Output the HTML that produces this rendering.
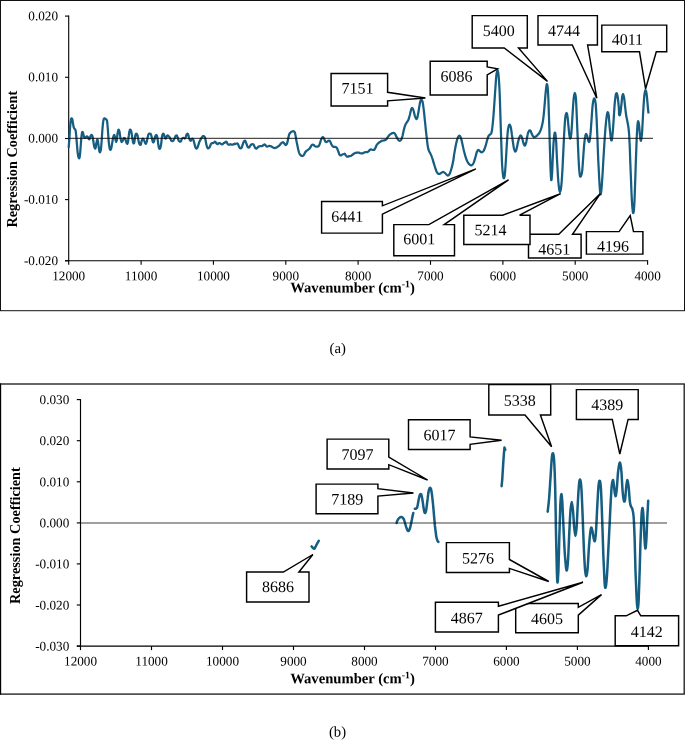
<!DOCTYPE html>
<html><head><meta charset="utf-8"><title>Regression coefficients</title>
<style>
html,body{margin:0;padding:0;background:#fff;}
body{width:685px;height:740px;overflow:hidden;font-family:"Liberation Serif",serif;}
svg{display:block;font-family:"Liberation Serif",serif;will-change:transform;}
text{fill:#000;}
</style></head><body>
<svg width="685" height="740" viewBox="0 0 685 740">
<rect x="0" y="0" width="685" height="740" fill="#fff"/>

<rect x="0.5" y="0.5" width="684.0" height="310.2" fill="none" stroke="#111" stroke-width="1.00"/>
<rect x="0.5" y="384.0" width="683.7" height="310.1" fill="none" stroke="#262626" stroke-width="1.40"/>
<line x1="68.7" y1="15.6" x2="68.7" y2="261.3" stroke="#000" stroke-width="1.10"/><line x1="65.0" y1="260.8" x2="648.1" y2="260.8" stroke="#000" stroke-width="1.10"/><line x1="65.0" y1="16.1" x2="68.7" y2="16.1" stroke="#000" stroke-width="1.10"/><text transform="translate(58.00 20.20) skewY(0.03)" text-anchor="end" font-size="13.2">0.020</text><line x1="65.0" y1="77.3" x2="68.7" y2="77.3" stroke="#000" stroke-width="1.10"/><text transform="translate(58.00 81.38) skewY(0.03)" text-anchor="end" font-size="13.2">0.010</text><line x1="65.0" y1="138.5" x2="68.7" y2="138.5" stroke="#000" stroke-width="1.10"/><text transform="translate(58.00 142.55) skewY(0.03)" text-anchor="end" font-size="13.2">0.000</text><line x1="65.0" y1="199.6" x2="68.7" y2="199.6" stroke="#000" stroke-width="1.10"/><text transform="translate(58.00 203.72) skewY(0.03)" text-anchor="end" font-size="13.2">-0.010</text><line x1="65.0" y1="260.8" x2="68.7" y2="260.8" stroke="#000" stroke-width="1.10"/><text transform="translate(58.00 264.90) skewY(0.03)" text-anchor="end" font-size="13.2">-0.020</text><line x1="68.7" y1="260.8" x2="68.7" y2="264.8" stroke="#000" stroke-width="1.10"/><text transform="translate(68.70 280.30) skewY(0.03)" text-anchor="middle" font-size="13.2">12000</text><line x1="141.1" y1="260.8" x2="141.1" y2="264.8" stroke="#000" stroke-width="1.10"/><text transform="translate(141.06 280.30) skewY(0.03)" text-anchor="middle" font-size="13.2">11000</text><line x1="213.4" y1="260.8" x2="213.4" y2="264.8" stroke="#000" stroke-width="1.10"/><text transform="translate(213.43 280.30) skewY(0.03)" text-anchor="middle" font-size="13.2">10000</text><line x1="285.8" y1="260.8" x2="285.8" y2="264.8" stroke="#000" stroke-width="1.10"/><text transform="translate(285.79 280.30) skewY(0.03)" text-anchor="middle" font-size="13.2">9000</text><line x1="358.1" y1="260.8" x2="358.1" y2="264.8" stroke="#000" stroke-width="1.10"/><text transform="translate(358.15 280.30) skewY(0.03)" text-anchor="middle" font-size="13.2">8000</text><line x1="430.5" y1="260.8" x2="430.5" y2="264.8" stroke="#000" stroke-width="1.10"/><text transform="translate(430.51 280.30) skewY(0.03)" text-anchor="middle" font-size="13.2">7000</text><line x1="502.9" y1="260.8" x2="502.9" y2="264.8" stroke="#000" stroke-width="1.10"/><text transform="translate(502.87 280.30) skewY(0.03)" text-anchor="middle" font-size="13.2">6000</text><line x1="575.2" y1="260.8" x2="575.2" y2="264.8" stroke="#000" stroke-width="1.10"/><text transform="translate(575.24 280.30) skewY(0.03)" text-anchor="middle" font-size="13.2">5000</text><line x1="647.6" y1="260.8" x2="647.6" y2="264.8" stroke="#000" stroke-width="1.10"/><text transform="translate(647.60 280.30) skewY(0.03)" text-anchor="middle" font-size="13.2">4000</text><text transform="translate(352.50 292.40) skewY(0.03)" text-anchor="middle" font-size="14.67" font-weight="bold">Wavenumber (cm<tspan font-size="9.8" dy="-5.2">-1</tspan><tspan dy="5.2">)</tspan></text><text transform="translate(17.2 159.2) rotate(-90)" text-anchor="middle" font-size="14.3" font-weight="bold">Regression Coefficient</text>
<path d="M68.7 147.7 C68.8 146.2 69.1 142.3 69.4 138.9 C69.6 135.5 69.8 130.6 70.1 127.5 C70.3 124.5 70.5 122.0 70.8 120.5 C71.0 119.0 71.3 118.5 71.6 118.3 C71.8 118.2 72.1 118.7 72.4 119.6 C72.6 120.6 72.8 122.7 73.1 124.0 C73.3 125.3 73.5 126.7 73.8 127.5 C74.0 128.3 74.3 128.4 74.6 128.8 C74.9 129.3 75.2 129.1 75.5 130.1 C75.8 131.2 76.0 133.1 76.2 135.4 C76.4 137.7 76.7 141.2 76.9 144.2 C77.2 147.1 77.4 150.7 77.7 152.9 C78.0 155.2 78.3 156.9 78.6 157.7 C78.9 158.5 79.2 158.4 79.5 157.7 C79.7 157.1 79.8 155.9 80.1 153.8 C80.3 151.7 80.5 148.0 80.8 145.0 C81.0 142.1 81.2 138.4 81.5 136.3 C81.7 134.2 81.9 133.0 82.2 132.3 C82.4 131.7 82.7 132.0 82.9 132.3 C83.1 132.7 83.2 133.7 83.4 134.5 C83.6 135.3 83.8 136.6 84.1 137.2 C84.4 137.7 84.7 138.0 85.0 138.0 C85.3 138.0 85.6 137.4 85.8 137.2 C86.1 136.9 86.4 136.3 86.7 136.3 C87.0 136.2 87.3 136.3 87.6 136.7 C87.9 137.1 88.2 138.0 88.5 138.5 C88.8 138.9 89.1 139.6 89.3 139.3 C89.6 139.1 90.0 137.8 90.2 137.2 C90.5 136.5 90.7 135.8 90.9 135.4 C91.2 135.0 91.5 134.8 91.8 135.0 C92.1 135.1 92.3 135.4 92.5 136.3 C92.7 137.2 92.9 138.6 93.2 140.2 C93.5 141.8 93.8 144.5 94.1 145.9 C94.4 147.3 94.7 148.2 95.0 148.5 C95.2 148.8 95.4 148.5 95.7 147.7 C95.9 146.8 96.1 144.6 96.4 143.3 C96.6 142.0 96.9 140.4 97.1 139.8 C97.3 139.2 97.4 139.3 97.6 139.8 C97.8 140.2 97.9 141.1 98.1 142.4 C98.3 143.7 98.6 146.1 98.8 147.7 C99.0 149.2 99.3 150.9 99.5 151.6 C99.7 152.3 100.0 152.4 100.2 152.0 C100.4 151.7 100.7 151.2 100.9 149.4 C101.1 147.7 101.4 144.6 101.6 141.5 C101.8 138.5 102.1 134.1 102.3 131.0 C102.5 128.0 102.8 125.1 103.0 123.1 C103.2 121.2 103.5 120.0 103.7 119.2 C104.0 118.4 104.3 118.4 104.6 118.3 C104.9 118.2 105.2 118.6 105.5 118.8 C105.7 118.9 105.9 119.2 106.2 119.5 C106.4 119.7 106.7 119.3 106.9 120.1 C107.1 120.8 107.2 121.9 107.4 124.0 C107.6 126.1 107.9 129.7 108.1 132.8 C108.3 135.8 108.5 139.8 108.8 142.4 C109.1 145.0 109.4 147.3 109.7 148.5 C110.0 149.8 110.3 150.0 110.5 149.9 C110.8 149.7 111.1 148.9 111.4 147.7 C111.7 146.4 112.0 144.2 112.3 142.4 C112.6 140.7 112.9 138.4 113.2 137.2 C113.5 135.9 113.8 135.1 114.0 135.0 C114.3 134.8 114.5 135.5 114.8 136.3 C115.0 137.1 115.2 138.8 115.5 139.8 C115.7 140.7 115.9 142.0 116.2 142.0 C116.4 142.0 116.6 141.0 116.9 139.8 C117.1 138.5 117.2 136.1 117.4 134.5 C117.6 133.0 117.8 131.4 118.1 130.6 C118.3 129.8 118.5 129.6 118.8 129.7 C119.0 129.9 119.2 130.4 119.5 131.5 C119.7 132.6 119.9 134.7 120.2 136.3 C120.4 137.8 120.8 139.7 121.1 140.7 C121.3 141.6 121.6 142.0 121.9 142.0 C122.3 141.9 122.7 140.9 123.0 140.2 C123.3 139.6 123.6 138.4 123.9 138.0 C124.1 137.7 124.4 137.7 124.7 138.0 C125.0 138.3 125.3 139.0 125.6 139.8 C125.9 140.6 126.2 142.2 126.5 142.8 C126.8 143.5 127.1 143.9 127.4 143.7 C127.6 143.5 127.8 142.9 128.1 141.5 C128.3 140.1 128.5 137.2 128.8 135.4 C129.0 133.6 129.3 131.5 129.6 130.6 C129.9 129.6 130.2 129.5 130.5 129.7 C130.8 129.9 131.1 130.5 131.4 131.9 C131.7 133.3 132.0 136.3 132.3 138.0 C132.6 139.8 132.8 141.5 133.1 142.4 C133.4 143.3 133.8 143.7 134.0 143.3 C134.3 142.8 134.5 141.2 134.7 139.8 C134.9 138.4 135.2 136.0 135.4 135.0 C135.7 133.9 136.0 133.7 136.3 133.6 C136.6 133.6 136.9 133.8 137.2 134.5 C137.5 135.3 137.8 136.7 138.0 138.0 C138.3 139.3 138.6 141.3 138.9 142.4 C139.2 143.5 139.5 144.2 139.8 144.6 C140.1 145.0 140.4 145.1 140.7 144.6 C141.0 144.1 141.3 142.5 141.5 141.5 C141.8 140.6 142.1 139.3 142.4 138.9 C142.7 138.5 143.0 138.6 143.3 138.9 C143.6 139.2 143.9 140.0 144.2 140.7 C144.5 141.3 144.8 142.3 145.1 142.8 C145.3 143.4 145.6 143.9 145.9 143.7 C146.2 143.5 146.5 142.6 146.8 141.5 C147.1 140.4 147.4 138.4 147.7 137.2 C148.0 135.9 148.2 134.7 148.6 134.1 C148.9 133.5 149.4 133.6 149.8 133.6 C150.2 133.6 150.5 133.5 150.8 134.1 C151.2 134.7 151.4 136.0 151.7 137.2 C152.0 138.3 152.3 140.2 152.6 141.1 C152.9 142.0 153.2 142.6 153.5 142.4 C153.8 142.3 154.0 141.2 154.3 140.2 C154.6 139.2 154.9 137.2 155.2 136.3 C155.5 135.4 155.8 135.0 156.1 135.0 C156.4 134.9 156.7 135.0 157.0 135.8 C157.2 136.6 157.4 138.2 157.7 139.8 C157.9 141.3 158.1 143.6 158.4 145.0 C158.6 146.5 158.9 148.0 159.2 148.5 C159.5 149.1 159.8 149.1 160.1 148.5 C160.4 148.0 160.7 146.6 161.0 145.0 C161.3 143.4 161.5 140.6 161.7 138.9 C161.9 137.2 162.1 135.8 162.4 135.0 C162.7 134.1 163.0 133.6 163.3 133.6 C163.6 133.6 163.9 134.2 164.1 135.0 C164.4 135.7 164.7 137.4 165.0 138.0 C165.3 138.6 165.6 138.8 165.9 138.5 C166.2 138.2 166.5 136.8 166.8 136.3 C167.1 135.8 167.3 135.4 167.6 135.4 C168.0 135.4 168.4 136.0 168.7 136.3 C169.0 136.6 169.3 136.7 169.6 137.2 C169.9 137.6 170.2 138.3 170.5 138.9 C170.7 139.5 171.0 140.3 171.3 140.7 C171.7 141.0 172.2 141.2 172.6 141.1 C172.9 141.0 173.3 140.7 173.6 140.2 C174.0 139.7 174.3 138.8 174.7 138.0 C175.0 137.3 175.4 136.3 175.7 135.8 C176.1 135.4 176.4 135.2 176.8 135.4 C177.1 135.6 177.3 136.3 177.6 137.2 C177.9 138.0 178.2 139.5 178.5 140.2 C178.8 140.9 179.2 141.4 179.6 141.5 C180.0 141.7 180.6 141.5 181.0 141.1 C181.3 140.7 181.5 139.4 181.8 138.9 C182.2 138.4 182.6 138.2 182.9 138.0 C183.2 137.9 183.4 137.8 183.8 137.9 C184.1 137.9 184.5 138.6 184.8 138.5 C185.1 138.3 185.4 137.8 185.7 137.2 C186.0 136.5 186.3 135.1 186.6 134.5 C186.9 133.9 187.1 133.6 187.4 133.6 C187.7 133.7 188.1 134.2 188.3 135.0 C188.6 135.7 188.8 137.2 189.0 138.0 C189.3 138.9 189.6 139.8 189.9 140.2 C190.2 140.7 190.5 140.8 190.8 140.7 C191.1 140.5 191.3 139.7 191.6 139.3 C191.9 139.0 192.2 138.7 192.5 138.7 C192.8 138.8 193.1 139.2 193.4 139.8 C193.7 140.4 193.8 141.4 194.1 142.4 C194.4 143.4 194.7 145.0 195.0 145.9 C195.3 146.9 195.6 147.7 195.8 148.1 C196.1 148.5 196.4 148.7 196.7 148.5 C197.0 148.4 197.3 147.9 197.6 147.2 C197.9 146.6 198.2 145.5 198.5 144.6 C198.8 143.7 199.0 142.8 199.3 142.0 C199.7 141.2 200.1 140.4 200.4 139.8 C200.8 139.1 201.1 138.5 201.5 138.0 C201.8 137.5 202.0 137.0 202.3 136.7 C202.6 136.4 202.9 136.2 203.2 136.1 C203.5 136.0 203.8 136.0 204.1 136.3 C204.4 136.5 204.7 136.9 205.0 137.6 C205.2 138.3 205.4 139.5 205.7 140.7 C205.9 141.8 206.1 143.5 206.4 144.6 C206.6 145.7 206.9 146.6 207.2 147.2 C207.5 147.9 207.8 148.3 208.1 148.4 C208.4 148.5 208.8 148.2 209.2 147.8 C209.5 147.5 209.7 147.0 210.0 146.3 C210.3 145.7 210.6 144.7 210.9 144.2 C211.2 143.6 211.6 143.3 212.0 143.1 C212.3 142.9 212.7 143.2 213.0 143.1 C213.4 143.0 213.7 142.6 214.1 142.4 C214.4 142.2 214.6 141.7 214.9 141.7 C215.2 141.7 215.5 142.1 215.8 142.4 C216.1 142.7 216.4 143.4 216.7 143.7 C217.0 144.0 217.2 144.2 217.6 144.2 C217.9 144.1 218.3 143.5 218.6 143.3 C219.0 143.1 219.3 143.0 219.7 143.1 C220.0 143.2 220.4 143.5 220.7 143.7 C221.1 143.9 221.4 144.3 221.8 144.3 C222.1 144.4 222.5 144.2 222.8 144.0 C223.2 143.8 223.5 143.3 223.9 143.1 C224.2 142.9 224.6 142.8 224.9 142.6 C225.2 142.3 225.5 141.8 225.8 141.7 C226.1 141.6 226.4 141.7 226.7 142.0 C226.9 142.3 227.1 143.0 227.4 143.5 C227.6 143.9 227.9 144.4 228.3 144.6 C228.6 144.8 229.0 144.7 229.3 144.6 C229.7 144.5 230.0 144.2 230.4 144.2 C230.7 144.2 231.1 144.5 231.4 144.6 C231.8 144.7 232.1 144.7 232.5 144.7 C232.8 144.6 233.2 144.5 233.5 144.3 C233.9 144.2 234.3 143.8 234.6 143.7 C234.9 143.7 234.9 144.0 235.3 144.0 C235.6 143.9 236.2 143.5 236.6 143.5 C237.0 143.4 237.4 143.4 237.7 143.7 C238.0 144.1 238.3 144.8 238.6 145.5 C238.9 146.1 239.1 147.0 239.5 147.5 C239.8 148.0 240.2 148.3 240.5 148.4 C240.9 148.4 241.2 148.1 241.6 147.7 C241.9 147.2 242.1 146.3 242.4 145.5 C242.7 144.7 243.0 143.6 243.3 142.8 C243.6 142.1 243.9 141.4 244.2 141.1 C244.5 140.8 244.8 140.6 245.1 140.8 C245.4 141.0 245.6 141.6 245.9 142.2 C246.2 142.9 246.5 143.8 246.8 144.6 C247.1 145.4 247.4 146.3 247.7 146.8 C248.0 147.3 248.4 147.5 248.7 147.5 C249.1 147.5 249.4 147.0 249.8 146.6 C250.1 146.2 250.5 145.4 250.8 145.0 C251.2 144.7 251.5 144.5 251.9 144.3 C252.2 144.2 252.6 144.0 252.9 144.2 C253.3 144.3 253.5 144.6 253.8 145.0 C254.1 145.5 254.4 146.4 254.7 147.0 C255.0 147.5 255.3 148.1 255.6 148.4 C255.9 148.6 256.3 148.7 256.6 148.5 C257.0 148.4 257.3 147.8 257.7 147.5 C258.0 147.2 258.3 146.8 258.7 146.6 C259.1 146.4 259.5 146.2 260.0 146.1 C260.4 146.0 260.8 146.1 261.2 146.1 C261.6 146.1 262.0 146.1 262.4 145.9 C262.8 145.7 263.1 145.3 263.5 145.0 C263.8 144.8 264.2 144.3 264.5 144.3 C264.8 144.3 265.1 144.7 265.4 145.0 C265.7 145.4 265.9 146.1 266.3 146.3 C266.6 146.6 267.0 146.7 267.3 146.6 C267.7 146.6 268.0 146.2 268.4 146.1 C268.7 146.0 269.1 145.9 269.4 145.9 C269.8 145.9 270.1 146.0 270.5 146.1 C270.8 146.2 271.2 146.4 271.5 146.6 C271.9 146.8 272.2 147.1 272.6 147.3 C272.9 147.5 273.3 147.7 273.6 147.8 C274.0 148.0 274.3 148.1 274.7 148.1 C275.0 148.1 275.4 148.0 275.7 147.8 C276.1 147.7 276.4 147.4 276.8 147.2 C277.1 147.0 277.5 146.8 277.8 146.6 C278.2 146.4 278.5 146.2 278.9 145.9 C279.2 145.6 279.6 145.3 279.9 144.9 C280.3 144.5 280.6 143.8 281.0 143.5 C281.3 143.1 281.7 142.8 282.0 142.6 C282.4 142.4 282.8 142.1 283.1 142.2 C283.4 142.3 283.7 142.8 284.0 143.1 C284.2 143.5 284.5 144.0 284.8 144.3 C285.1 144.7 285.4 145.0 285.7 145.0 C286.0 145.0 286.3 144.9 286.6 144.3 C286.9 143.8 287.3 142.6 287.6 141.5 C287.9 140.5 288.1 139.1 288.3 138.0 C288.6 136.9 288.8 135.8 289.0 135.0 C289.3 134.2 289.6 133.7 289.9 133.2 C290.2 132.7 290.6 132.4 291.0 132.1 C291.3 131.8 291.7 131.6 292.0 131.5 C292.4 131.3 292.7 131.2 293.1 131.2 C293.4 131.2 293.8 131.2 294.1 131.5 C294.4 131.8 294.7 132.1 295.0 132.9 C295.2 133.8 295.5 135.0 295.7 136.3 C295.9 137.6 296.1 139.2 296.4 140.7 C296.6 142.1 297.0 143.6 297.3 145.0 C297.6 146.4 297.8 147.7 298.1 149.0 C298.4 150.2 298.7 151.5 299.0 152.5 C299.3 153.4 299.7 154.1 300.1 154.7 C300.4 155.2 300.9 155.5 301.3 155.7 C301.7 155.9 302.1 156.0 302.5 156.0 C302.9 155.9 303.2 155.7 303.6 155.4 C303.9 155.0 304.2 154.3 304.4 153.8 C304.7 153.3 305.0 152.7 305.3 152.2 C305.6 151.8 306.0 151.3 306.4 151.0 C306.8 150.6 307.2 150.4 307.6 150.1 C308.0 149.8 308.4 149.6 308.8 149.2 C309.2 148.9 309.6 148.5 309.9 148.1 C310.2 147.7 310.5 147.1 310.8 146.6 C311.0 146.1 311.3 145.5 311.6 145.2 C311.9 144.9 312.3 144.6 312.7 144.6 C313.0 144.6 313.4 144.8 313.7 145.0 C314.1 145.3 314.4 145.8 314.8 146.1 C315.1 146.3 315.5 146.5 315.8 146.6 C316.2 146.7 316.6 146.7 317.1 146.6 C317.5 146.6 317.9 146.6 318.3 146.3 C318.7 146.1 319.0 145.7 319.3 145.0 C319.7 144.4 319.9 143.3 320.2 142.4 C320.5 141.5 320.8 140.4 321.1 139.6 C321.4 138.8 321.7 138.3 322.0 137.9 C322.3 137.4 322.5 137.2 322.8 137.2 C323.1 137.2 323.4 137.4 323.7 137.9 C324.0 138.3 324.3 139.1 324.6 139.8 C324.9 140.4 325.1 141.3 325.5 141.7 C325.8 142.1 326.2 142.3 326.5 142.2 C326.9 142.2 327.2 141.6 327.6 141.4 C327.9 141.1 328.3 140.7 328.6 140.7 C329.0 140.6 329.3 140.6 329.7 140.8 C330.0 141.1 330.3 141.7 330.5 142.2 C330.8 142.8 331.1 143.5 331.4 144.2 C331.7 144.8 332.0 145.5 332.3 145.9 C332.6 146.3 333.0 146.6 333.3 146.8 C333.7 146.9 334.2 146.8 334.6 146.8 C335.0 146.8 335.4 146.7 335.8 147.0 C336.2 147.2 336.5 147.5 336.9 148.1 C337.2 148.7 337.6 149.5 337.9 150.3 C338.2 151.1 338.5 152.2 338.8 152.9 C339.1 153.7 339.3 154.4 339.7 154.8 C340.0 155.3 340.3 155.4 340.7 155.4 C341.1 155.4 341.5 155.0 341.9 154.8 C342.4 154.7 342.8 154.4 343.2 154.2 C343.7 154.1 344.3 153.9 344.6 153.8 C344.8 153.7 344.6 153.6 344.7 153.8 C344.9 154.0 345.3 154.7 345.6 155.1 C345.9 155.5 346.3 156.2 346.7 156.4 C347.0 156.7 347.5 156.6 347.9 156.6 C348.3 156.6 348.7 156.3 349.1 156.2 C349.5 156.1 349.9 156.1 350.3 156.0 C350.7 155.8 351.2 155.6 351.6 155.4 C352.0 155.1 352.4 154.8 352.8 154.5 C353.2 154.2 353.6 153.9 354.0 153.6 C354.4 153.4 354.8 153.1 355.2 152.9 C355.6 152.8 356.1 152.8 356.5 152.7 C356.9 152.7 357.3 152.7 357.7 152.7 C358.1 152.7 358.5 152.7 358.9 152.7 C359.3 152.8 359.7 153.0 360.1 153.1 C360.6 153.2 361.0 153.4 361.4 153.4 C361.8 153.5 362.2 153.4 362.6 153.3 C363.0 153.2 363.4 152.9 363.8 152.7 C364.2 152.6 364.6 152.3 365.1 152.2 C365.5 152.1 365.9 152.1 366.3 152.0 C366.7 152.0 367.1 152.2 367.5 152.0 C367.9 151.9 368.2 151.7 368.6 151.3 C368.9 151.0 369.3 150.4 369.6 150.1 C370.0 149.8 370.3 149.5 370.7 149.4 C371.0 149.3 371.4 149.5 371.7 149.6 C372.1 149.7 372.4 149.8 372.8 149.9 C373.1 149.9 373.5 150.0 373.8 149.9 C374.1 149.8 374.4 149.6 374.7 149.2 C375.0 148.8 375.3 148.1 375.6 147.5 C375.9 146.9 376.1 146.1 376.4 145.5 C376.8 144.9 377.1 144.4 377.5 144.0 C377.9 143.6 378.3 143.3 378.7 142.9 C379.1 142.6 379.5 142.3 379.9 142.1 C380.3 141.8 380.8 141.4 381.2 141.2 C381.6 140.9 382.0 140.8 382.4 140.7 C382.8 140.5 383.2 140.6 383.6 140.5 C384.0 140.4 384.4 140.4 384.8 140.2 C385.3 140.1 385.7 139.9 386.1 139.6 C386.5 139.3 386.8 138.7 387.1 138.2 C387.5 137.7 387.8 136.9 388.2 136.5 C388.5 136.0 388.9 135.6 389.2 135.2 C389.6 134.9 389.9 134.6 390.3 134.3 C390.6 134.1 391.0 133.8 391.3 133.6 C391.7 133.5 392.0 133.3 392.4 133.2 C392.7 133.1 393.1 132.9 393.4 132.9 C393.8 132.9 394.2 132.9 394.5 133.2 C394.8 133.5 395.1 134.0 395.4 134.5 C395.6 135.0 395.9 135.7 396.2 136.3 C396.5 136.9 396.8 137.4 397.1 138.0 C397.4 138.6 397.8 139.3 398.2 139.8 C398.5 140.2 398.9 140.8 399.4 140.8 C399.9 140.8 400.7 140.6 401.2 139.7 C401.7 138.9 402.1 137.4 402.6 135.7 C403.0 134.0 403.5 131.4 403.9 129.6 C404.4 127.8 404.8 126.1 405.3 124.9 C405.8 123.6 406.4 123.1 406.9 122.2 C407.4 121.3 408.0 120.7 408.5 119.5 C409.0 118.2 409.4 116.4 409.9 114.7 C410.3 113.0 410.8 110.5 411.2 109.3 C411.6 108.2 411.9 107.9 412.3 108.0 C412.7 108.1 413.0 108.8 413.4 110.0 C413.8 111.2 414.3 113.9 414.7 115.4 C415.2 116.9 415.7 118.3 416.1 118.8 C416.5 119.2 416.8 119.0 417.2 118.1 C417.5 117.2 417.9 115.3 418.2 113.4 C418.6 111.5 419.0 108.6 419.3 106.6 C419.7 104.6 420.0 102.4 420.4 101.2 C420.8 100.0 421.1 99.5 421.5 99.6 C421.8 99.7 422.2 100.4 422.6 101.9 C422.9 103.4 423.3 105.8 423.6 108.6 C424.0 111.5 424.4 115.3 424.7 118.8 C425.1 122.3 425.5 126.2 425.8 129.6 C426.2 133.0 426.6 136.4 426.9 139.1 C427.2 141.8 427.4 143.9 427.7 145.8 C428.0 147.7 428.3 149.2 428.8 150.5 C429.2 151.8 429.9 152.5 430.4 153.6 C430.9 154.8 431.5 155.8 432.0 157.3 C432.6 158.8 433.1 160.9 433.6 162.7 C434.2 164.5 434.7 166.5 435.3 168.1 C435.8 169.7 436.4 171.2 436.9 172.2 C437.4 173.1 437.9 173.7 438.5 173.9 C439.1 174.1 439.8 173.8 440.4 173.5 C441.0 173.2 441.7 172.4 442.3 172.2 C442.9 171.9 443.4 171.9 443.9 172.2 C444.5 172.4 445.0 173.0 445.5 173.5 C446.1 174.0 446.7 175.0 447.2 175.3 C447.7 175.6 448.0 175.7 448.5 175.3 C449.0 174.9 449.6 174.1 450.1 172.8 C450.7 171.5 451.2 169.6 451.8 167.4 C452.3 165.3 453.0 162.2 453.4 160.0 C453.8 157.8 453.8 156.4 454.2 154.1 C454.6 151.8 455.2 148.5 455.6 146.2 C456.1 143.8 456.6 141.6 457.0 140.0 C457.5 138.4 458.0 137.2 458.4 136.5 C458.9 135.8 459.4 135.5 459.8 136.0 C460.3 136.4 460.8 137.6 461.3 139.1 C461.7 140.7 462.2 143.2 462.7 145.3 C463.1 147.3 463.5 149.4 464.1 151.5 C464.6 153.5 465.2 155.8 465.8 157.6 C466.4 159.4 466.9 160.8 467.6 162.0 C468.2 163.2 469.0 164.1 469.7 164.6 C470.4 165.2 471.2 165.5 471.8 165.2 C472.5 164.9 473.0 164.1 473.6 162.9 C474.2 161.6 474.8 159.4 475.3 157.6 C475.9 155.8 476.3 153.6 476.7 152.3 C477.2 151.1 477.6 150.3 478.1 150.0 C478.7 149.8 479.3 150.7 479.9 151.1 C480.5 151.5 481.0 152.4 481.7 152.3 C482.3 152.2 483.1 151.6 483.8 150.6 C484.4 149.5 485.0 147.8 485.5 146.2 C486.1 144.6 486.5 142.5 486.9 140.9 C487.4 139.3 487.9 137.5 488.3 136.5 C488.8 135.5 489.3 135.2 489.7 134.7 C490.2 134.2 490.7 134.5 491.2 133.5 C491.6 132.5 491.9 131.2 492.2 128.6 C492.6 126.0 492.9 122.1 493.3 118.0 C493.6 113.9 494.0 109.0 494.3 104.0 C494.7 99.0 495.0 93.0 495.4 88.1 C495.7 83.3 496.1 77.9 496.4 74.9 C496.8 72.0 497.1 70.2 497.5 70.2 C497.8 70.2 498.2 71.4 498.5 74.9 C498.9 78.5 499.3 85.4 499.6 91.7 C499.9 98.0 500.1 105.7 500.3 112.8 C500.5 119.8 500.8 126.8 501.0 133.9 C501.2 140.9 501.5 149.1 501.7 155.0 C501.9 160.8 502.1 165.4 502.4 169.0 C502.7 172.7 503.0 175.5 503.3 177.0 C503.6 178.4 503.9 178.6 504.2 177.8 C504.5 177.1 504.8 175.5 505.0 172.6 C505.3 169.6 505.6 164.9 505.9 160.2 C506.2 155.6 506.5 149.1 506.8 144.4 C507.1 139.7 507.4 135.2 507.7 132.1 C508.0 129.0 508.4 127.2 508.7 126.0 C509.1 124.7 509.4 124.4 509.8 124.7 C510.1 125.0 510.5 126.0 510.9 127.7 C511.2 129.4 511.6 132.3 511.9 134.7 C512.3 137.2 512.6 140.3 513.0 142.7 C513.3 145.0 513.7 147.3 514.0 148.8 C514.4 150.3 514.7 151.2 515.1 151.5 C515.4 151.7 515.8 151.5 516.1 150.6 C516.5 149.7 516.9 147.4 517.2 146.2 C517.5 144.9 517.5 144.4 517.8 143.0 C518.2 141.6 518.8 139.0 519.2 137.7 C519.7 136.4 520.2 135.4 520.6 135.4 C521.1 135.4 521.6 136.4 522.0 137.7 C522.5 139.0 523.0 141.7 523.4 143.0 C523.9 144.3 524.4 145.8 524.8 145.6 C525.3 145.5 525.8 144.0 526.3 142.1 C526.7 140.2 527.2 136.1 527.7 134.2 C528.1 132.3 528.6 131.3 529.1 130.7 C529.5 130.1 530.0 130.1 530.5 130.7 C530.9 131.3 531.4 133.2 531.9 134.2 C532.4 135.2 533.1 136.4 533.6 136.8 C534.2 137.3 534.8 137.1 535.4 136.8 C536.0 136.5 536.8 135.8 537.5 135.1 C538.2 134.3 539.0 133.6 539.6 132.4 C540.3 131.3 540.9 129.8 541.4 128.0 C541.9 126.3 542.4 124.2 542.8 121.9 C543.2 119.5 543.5 117.3 543.8 114.0 C544.2 110.6 544.5 105.8 544.9 101.7 C545.2 97.6 545.6 92.3 546.0 89.3 C546.3 86.4 546.5 84.4 546.8 84.1 C547.1 83.8 547.4 84.9 547.7 87.6 C548.0 90.2 548.2 94.3 548.4 99.9 C548.6 105.5 548.9 113.4 549.1 121.0 C549.4 128.6 549.6 137.7 549.8 145.6 C550.1 153.5 550.3 162.8 550.5 168.5 C550.8 174.2 551.0 178.7 551.2 179.9 C551.5 181.1 551.7 178.6 551.9 175.5 C552.2 172.4 552.4 166.7 552.6 161.5 C552.9 156.2 553.2 148.4 553.5 143.9 C553.8 139.3 554.1 136.0 554.4 134.2 C554.7 132.4 555.0 132.0 555.3 133.3 C555.6 134.6 555.9 137.7 556.2 142.1 C556.4 146.5 556.7 154.1 557.0 159.7 C557.3 165.3 557.6 170.8 557.9 175.5 C558.2 180.2 558.6 185.0 559.0 187.8 C559.3 190.6 559.7 192.2 560.0 192.2 C560.4 192.2 560.7 190.6 561.1 187.8 C561.4 185.0 561.8 181.1 562.1 175.5 C562.5 170.0 562.8 161.5 563.2 154.4 C563.5 147.4 563.9 139.5 564.2 133.3 C564.6 127.2 564.9 120.9 565.3 117.5 C565.7 114.1 566.0 113.4 566.4 113.1 C566.7 112.8 567.1 113.5 567.4 115.7 C567.8 117.9 568.1 122.9 568.5 126.3 C568.8 129.6 569.2 134.0 569.5 136.0 C569.9 137.9 570.2 139.3 570.6 138.2 C570.9 137.2 571.3 134.1 571.6 129.8 C572.0 125.5 572.3 117.5 572.7 112.2 C573.0 106.9 573.4 101.4 573.7 98.1 C574.1 94.9 574.4 92.9 574.8 92.9 C575.1 92.9 575.5 93.7 575.9 98.1 C576.2 102.5 576.6 111.3 576.9 119.2 C577.3 127.2 577.6 137.7 578.0 145.6 C578.3 153.5 578.7 161.6 579.0 166.7 C579.4 171.9 579.6 175.5 580.1 176.4 C580.6 177.3 581.5 175.2 582.0 172.4 C582.5 169.5 582.7 163.7 583.1 159.2 C583.4 154.7 583.8 149.0 584.1 145.2 C584.5 141.4 584.8 138.3 585.2 136.4 C585.5 134.5 585.9 133.8 586.2 133.8 C586.6 133.8 586.9 135.2 587.3 136.4 C587.6 137.6 588.0 139.9 588.3 140.8 C588.7 141.7 589.0 142.7 589.4 141.7 C589.7 140.6 590.1 138.2 590.4 134.6 C590.8 131.1 591.1 125.3 591.5 120.6 C591.8 115.9 592.2 110.1 592.5 106.6 C592.9 103.1 593.2 100.9 593.6 99.6 C593.9 98.2 594.3 98.0 594.6 98.7 C595.0 99.4 595.4 100.6 595.7 103.9 C596.0 107.3 596.3 112.9 596.6 118.9 C596.9 124.9 597.2 132.9 597.5 139.9 C597.7 146.9 598.0 154.5 598.3 161.0 C598.6 167.4 598.9 173.4 599.2 178.5 C599.5 183.6 599.8 189.0 600.1 191.7 C600.4 194.3 600.6 194.7 600.8 194.3 C601.0 193.9 601.2 192.0 601.5 189.0 C601.8 186.1 602.0 181.7 602.4 176.8 C602.7 171.8 603.1 165.1 603.4 159.2 C603.8 153.4 604.1 146.9 604.5 141.7 C604.8 136.4 605.2 131.7 605.5 127.6 C605.9 123.5 606.2 119.7 606.6 117.1 C606.9 114.5 607.3 112.5 607.6 112.2 C608.0 111.9 608.3 112.8 608.7 115.4 C609.0 117.9 609.4 123.8 609.7 127.6 C610.1 131.4 610.5 136.1 610.8 138.2 C611.1 140.3 611.4 140.8 611.7 140.3 C612.0 139.7 612.2 137.9 612.5 134.6 C612.9 131.4 613.2 125.6 613.6 120.6 C613.9 115.6 614.3 109.1 614.6 104.8 C615.0 100.6 615.4 97.1 615.7 95.2 C616.1 93.3 616.4 93.0 616.8 93.4 C617.1 93.9 617.5 95.3 617.8 97.8 C618.2 100.3 618.6 105.6 618.9 108.3 C619.1 111.1 618.9 113.5 619.1 114.5 C619.3 115.5 619.8 115.7 620.1 114.5 C620.5 113.3 620.8 110.3 621.1 107.4 C621.5 104.5 621.8 99.5 622.1 97.3 C622.5 95.1 622.8 94.1 623.2 94.2 C623.5 94.4 623.8 96.1 624.2 98.3 C624.5 100.5 624.8 104.5 625.2 107.4 C625.5 110.3 625.8 113.1 626.2 115.5 C626.6 117.8 627.0 119.4 627.4 121.6 C627.8 123.8 628.3 125.6 628.6 128.6 C629.0 131.7 629.2 134.5 629.4 139.8 C629.7 145.0 630.0 152.9 630.2 160.0 C630.5 167.1 630.8 175.5 631.1 182.3 C631.3 189.0 631.6 195.8 631.9 200.5 C632.1 205.2 632.4 208.6 632.7 210.6 C632.9 212.7 633.2 213.7 633.5 212.7 C633.8 211.6 634.0 209.3 634.3 204.6 C634.6 199.8 634.8 191.7 635.1 184.3 C635.4 176.9 635.6 167.8 635.9 160.0 C636.2 152.3 636.5 143.7 636.7 137.8 C637.0 131.8 637.3 127.4 637.5 124.6 C637.8 121.8 638.1 121.0 638.3 121.2 C638.6 121.3 638.9 123.2 639.1 125.6 C639.4 128.0 639.7 133.2 640.0 135.7 C640.3 138.3 640.6 141.1 641.0 140.8 C641.3 140.5 641.6 137.9 642.0 133.7 C642.3 129.5 642.7 121.2 643.0 115.5 C643.3 109.8 643.7 103.3 644.0 99.3 C644.3 95.2 644.7 92.6 645.0 91.2 C645.4 89.8 645.7 89.8 646.0 90.8 C646.4 91.8 646.7 94.5 647.0 97.3 C647.3 100.0 647.6 104.7 647.9 107.4 C648.1 110.1 648.4 112.4 648.5 113.5" fill="none" stroke="#155d81" stroke-width="2.25" stroke-linejoin="round" stroke-linecap="butt"/>
<line x1="68.7" y1="138.3" x2="653.0" y2="138.3" stroke="#000" stroke-opacity="0.7" stroke-width="1.20"/>
<polygon points="331.1,73.5 387.6,73.5 387.6,92.3 425.4,98.0 387.6,100.8 387.6,105.9 331.1,105.9" fill="#fff" stroke="#000" stroke-width="1.45" stroke-linejoin="miter"/><text transform="translate(357.40 93.50) skewY(0.03)" text-anchor="middle" font-size="16">7151</text>
<polygon points="430.2,61.3 487.2,61.3 487.2,67.0 497.6,68.8 487.2,74.9 487.2,95.0 430.2,95.0" fill="#fff" stroke="#000" stroke-width="1.45" stroke-linejoin="miter"/><text transform="translate(456.50 81.40) skewY(0.03)" text-anchor="middle" font-size="16">6086</text>
<polygon points="472.2,15.6 527.3,15.6 527.3,47.9 518.5,47.9 547.5,81.4 504.2,47.9 472.2,47.9" fill="#fff" stroke="#000" stroke-width="1.45" stroke-linejoin="miter"/><text transform="translate(498.70 36.10) skewY(0.03)" text-anchor="middle" font-size="16">5400</text>
<polygon points="538.0,15.6 597.4,15.6 597.4,45.0 587.6,45.0 596.8,98.2 572.3,45.0 538.0,45.0" fill="#fff" stroke="#000" stroke-width="1.45" stroke-linejoin="miter"/><text transform="translate(564.10 36.10) skewY(0.03)" text-anchor="middle" font-size="16">4744</text>
<polygon points="601.8,25.1 666.7,25.1 666.7,51.8 656.3,51.8 645.6,88.8 639.5,51.8 601.8,51.8" fill="#fff" stroke="#000" stroke-width="1.45" stroke-linejoin="miter"/><text transform="translate(627.40 44.80) skewY(0.03)" text-anchor="middle" font-size="16">4011</text>
<polygon points="321.6,201.4 382.4,201.4 382.4,205.8 475.9,168.9 382.4,214.1 382.4,233.1 321.6,233.1" fill="#fff" stroke="#000" stroke-width="1.45" stroke-linejoin="miter"/><text transform="translate(347.30 221.75) skewY(0.03)" text-anchor="middle" font-size="16">6441</text>
<polygon points="393.8,224.6 428.9,224.6 508.5,179.8 444.2,224.6 454.5,224.6 454.5,255.7 393.8,255.7" fill="#fff" stroke="#000" stroke-width="1.45" stroke-linejoin="miter"/><text transform="translate(419.30 244.30) skewY(0.03)" text-anchor="middle" font-size="16">6001</text>
<polygon points="528.5,234.3 558.8,234.3 600.4,193.6 572.5,234.3 581.1,234.3 581.1,257.9 528.5,257.9" fill="#fff" stroke="#000" stroke-width="1.45" stroke-linejoin="miter"/><text transform="translate(554.20 254.50) skewY(0.03)" text-anchor="middle" font-size="16">4651</text>
<polygon points="463.8,215.2 502.6,215.2 560.6,193.7 519.6,215.2 530.0,215.2 530.0,244.4 463.8,244.4" fill="#fff" stroke="#000" stroke-width="1.45" stroke-linejoin="miter"/><text transform="translate(490.50 235.20) skewY(0.03)" text-anchor="middle" font-size="16">5214</text>
<polygon points="586.4,231.6 619.1,231.6 630.2,215.6 633.5,231.6 642.9,231.6 642.9,254.1 586.4,254.1" fill="#fff" stroke="#000" stroke-width="1.45" stroke-linejoin="miter"/><text transform="translate(613.00 251.50) skewY(0.03)" text-anchor="middle" font-size="16">4196</text>
<text transform="translate(337.70 353.00) skewY(0.03)" text-anchor="middle" font-size="14.67">(a)</text>
<line x1="0.5" y1="383.4" x2="0.5" y2="694.8" stroke="#000" stroke-width="1"/>
<line x1="80.5" y1="399.1" x2="80.5" y2="646.6" stroke="#000" stroke-width="1.15"/><line x1="76.8" y1="646.1" x2="648.9" y2="646.1" stroke="#000" stroke-width="1.15"/><line x1="76.8" y1="399.6" x2="80.5" y2="399.6" stroke="#000" stroke-width="1.15"/><text transform="translate(69.25 404.00) skewY(0.03)" text-anchor="end" font-size="13.2">0.030</text><line x1="76.8" y1="440.7" x2="80.5" y2="440.7" stroke="#000" stroke-width="1.15"/><text transform="translate(69.25 445.08) skewY(0.03)" text-anchor="end" font-size="13.2">0.020</text><line x1="76.8" y1="481.8" x2="80.5" y2="481.8" stroke="#000" stroke-width="1.15"/><text transform="translate(69.25 486.17) skewY(0.03)" text-anchor="end" font-size="13.2">0.010</text><line x1="76.8" y1="522.9" x2="80.5" y2="522.9" stroke="#000" stroke-width="1.15"/><text transform="translate(69.25 527.25) skewY(0.03)" text-anchor="end" font-size="13.2">0.000</text><line x1="76.8" y1="563.9" x2="80.5" y2="563.9" stroke="#000" stroke-width="1.15"/><text transform="translate(69.25 568.33) skewY(0.03)" text-anchor="end" font-size="13.2">-0.010</text><line x1="76.8" y1="605.0" x2="80.5" y2="605.0" stroke="#000" stroke-width="1.15"/><text transform="translate(69.25 609.42) skewY(0.03)" text-anchor="end" font-size="13.2">-0.020</text><line x1="76.8" y1="646.1" x2="80.5" y2="646.1" stroke="#000" stroke-width="1.15"/><text transform="translate(69.25 650.50) skewY(0.03)" text-anchor="end" font-size="13.2">-0.030</text><line x1="80.5" y1="646.1" x2="80.5" y2="650.1" stroke="#000" stroke-width="1.15"/><text transform="translate(80.55 665.50) skewY(0.03)" text-anchor="middle" font-size="13.2">12000</text><line x1="151.5" y1="646.1" x2="151.5" y2="650.1" stroke="#000" stroke-width="1.15"/><text transform="translate(151.53 665.50) skewY(0.03)" text-anchor="middle" font-size="13.2">11000</text><line x1="222.5" y1="646.1" x2="222.5" y2="650.1" stroke="#000" stroke-width="1.15"/><text transform="translate(222.51 665.50) skewY(0.03)" text-anchor="middle" font-size="13.2">10000</text><line x1="293.5" y1="646.1" x2="293.5" y2="650.1" stroke="#000" stroke-width="1.15"/><text transform="translate(293.49 665.50) skewY(0.03)" text-anchor="middle" font-size="13.2">9000</text><line x1="364.5" y1="646.1" x2="364.5" y2="650.1" stroke="#000" stroke-width="1.15"/><text transform="translate(364.48 665.50) skewY(0.03)" text-anchor="middle" font-size="13.2">8000</text><line x1="435.5" y1="646.1" x2="435.5" y2="650.1" stroke="#000" stroke-width="1.15"/><text transform="translate(435.46 665.50) skewY(0.03)" text-anchor="middle" font-size="13.2">7000</text><line x1="506.4" y1="646.1" x2="506.4" y2="650.1" stroke="#000" stroke-width="1.15"/><text transform="translate(506.44 665.50) skewY(0.03)" text-anchor="middle" font-size="13.2">6000</text><line x1="577.4" y1="646.1" x2="577.4" y2="650.1" stroke="#000" stroke-width="1.15"/><text transform="translate(577.42 665.50) skewY(0.03)" text-anchor="middle" font-size="13.2">5000</text><line x1="648.4" y1="646.1" x2="648.4" y2="650.1" stroke="#000" stroke-width="1.15"/><text transform="translate(648.40 665.50) skewY(0.03)" text-anchor="middle" font-size="13.2">4000</text><text transform="translate(352.50 683.30) skewY(0.03)" text-anchor="middle" font-size="14.67" font-weight="bold">Wavenumber (cm<tspan font-size="9.8" dy="-5.2">-1</tspan><tspan dy="5.2">)</tspan></text><text transform="translate(20.3 535.6) rotate(-90)" text-anchor="middle" font-size="14.3" font-weight="bold">Regression Coefficient</text>
<path d="M311.6 546.4 C311.8 546.6 312.4 547.4 312.8 547.8 C313.2 548.2 313.8 549.0 314.2 548.8 C314.6 548.6 315.0 547.6 315.5 546.8 C316.0 546.0 316.4 544.8 317.0 543.8 C317.6 542.8 318.5 541.3 318.8 540.8" fill="none" stroke="#155d81" stroke-width="2.50" stroke-linejoin="round" stroke-linecap="round"/>
<path d="M396.6 522.9 C396.7 522.4 397.1 520.9 397.6 520.1 C398.0 519.3 398.5 518.6 399.1 518.1 C399.6 517.6 400.3 517.2 400.9 517.1 C401.5 517.0 402.0 517.0 402.5 517.4 C403.0 517.8 403.5 518.6 404.0 519.6 C404.4 520.7 404.8 522.3 405.2 523.7 C405.6 525.0 406.0 526.6 406.4 527.7 C406.8 528.9 407.3 530.1 407.7 530.6 C408.1 531.1 408.5 531.1 408.8 530.8 C409.2 530.5 409.5 529.8 409.8 528.7 C410.2 527.7 410.5 526.2 410.8 524.7 C411.2 523.2 411.5 521.1 411.9 519.6 C412.2 518.1 412.4 516.7 412.7 515.6 C412.9 514.5 413.2 513.5 413.3 513.0" fill="none" stroke="#155d81" stroke-width="2.50" stroke-linejoin="round" stroke-linecap="round"/>
<path d="M414.8 508.7 C415.0 508.7 415.7 508.9 416.1 508.7 C416.5 508.5 416.8 508.3 417.1 507.5 C417.4 506.7 417.7 505.3 417.9 503.9 C418.2 502.6 418.5 500.7 418.7 499.4 C419.0 498.0 419.3 496.7 419.5 495.8 C419.8 495.0 420.1 494.4 420.4 494.1 C420.6 493.9 420.9 493.8 421.2 494.3 C421.4 494.8 421.7 496.0 422.0 497.3 C422.3 498.7 422.5 500.6 422.8 502.4 C423.1 504.2 423.3 506.4 423.6 508.0 C423.9 509.6 424.1 511.2 424.4 512.0 C424.7 512.9 425.0 513.2 425.2 513.0 C425.5 512.9 425.8 512.3 426.0 511.0 C426.3 509.8 426.6 507.6 426.8 505.5 C427.1 503.3 427.4 500.6 427.7 498.4 C427.9 496.2 428.2 493.9 428.5 492.3 C428.7 490.7 429.0 489.5 429.3 488.7 C429.5 488.0 429.8 487.7 430.1 487.7 C430.4 487.7 430.6 487.9 430.9 488.7 C431.2 489.6 431.4 491.0 431.7 492.8 C432.0 494.6 432.2 496.9 432.5 499.4 C432.8 501.8 433.1 504.6 433.3 507.5 C433.6 510.3 433.9 513.6 434.1 516.6 C434.4 519.6 434.7 523.0 434.9 525.7 C435.2 528.4 435.5 530.8 435.8 532.8 C436.0 534.8 436.3 536.5 436.6 537.9 C436.9 539.2 437.3 540.2 437.6 540.9 C437.9 541.6 438.3 541.7 438.4 541.9" fill="none" stroke="#155d81" stroke-width="2.50" stroke-linejoin="round" stroke-linecap="round"/>
<path d="M501.6 486.2 C501.7 485.2 502.0 482.4 502.2 480.0 C502.4 477.6 502.5 474.7 502.7 472.0 C502.9 469.3 503.0 466.6 503.2 463.8 C503.4 461.0 503.6 457.4 503.8 455.0 C504.0 452.6 504.2 450.8 504.3 449.5 C504.4 448.2 504.4 447.3 504.6 447.4 C504.8 447.4 505.2 449.4 505.3 449.8" fill="none" stroke="#155d81" stroke-width="2.50" stroke-linejoin="round" stroke-linecap="round"/>
<path d="M547.7 511.7 C547.9 509.4 548.6 504.2 549.1 498.3 C549.6 492.4 550.1 483.1 550.6 476.4 C551.0 469.7 551.4 462.0 551.8 458.1 C552.2 454.3 552.6 452.6 553.0 453.3 C553.4 453.9 553.9 455.9 554.2 461.8 C554.6 467.7 554.9 477.6 555.2 488.6 C555.5 499.5 555.7 514.9 555.9 527.5 C556.2 540.1 556.4 554.9 556.7 564.0 C556.9 573.1 557.1 581.1 557.4 582.3 C557.7 583.5 558.0 578.8 558.4 571.3 C558.7 563.8 559.0 548.2 559.3 537.2 C559.7 526.3 560.0 512.8 560.3 505.6 C560.6 498.4 561.0 494.8 561.3 494.2 C561.6 493.5 561.9 496.4 562.3 501.9 C562.6 507.5 563.1 519.2 563.5 527.5 C563.9 535.8 564.3 545.4 564.7 551.8 C565.1 558.3 565.6 563.4 565.9 566.5 C566.3 569.5 566.5 571.3 566.9 570.1 C567.3 568.9 567.7 565.4 568.1 559.1 C568.5 552.9 568.9 540.5 569.3 532.4 C569.7 524.3 570.1 515.5 570.5 510.5 C570.9 505.4 571.4 501.9 571.8 501.9 C572.2 501.9 572.6 506.2 573.0 510.5 C573.4 514.7 573.8 523.2 574.2 527.5 C574.6 531.8 575.0 536.0 575.4 536.0 C575.8 536.0 576.2 533.0 576.6 527.5 C577.0 522.0 577.4 510.5 577.8 503.2 C578.2 495.9 578.7 487.5 579.1 483.7 C579.5 479.8 579.9 479.0 580.3 480.0 C580.7 481.0 581.1 483.5 581.5 489.8 C581.9 496.1 582.3 507.8 582.7 517.8 C583.1 527.7 583.5 540.7 583.9 549.4 C584.3 558.1 584.7 565.6 585.1 570.1 C585.6 574.6 586.0 576.4 586.4 576.2 C586.8 576.0 587.2 573.3 587.6 568.9 C588.0 564.4 588.4 555.1 588.8 549.4 C589.2 543.7 589.6 538.5 590.0 534.8 C590.4 531.2 590.8 528.1 591.2 527.5 C591.6 526.9 592.0 529.3 592.4 531.2 C592.9 533.0 593.3 536.8 593.7 538.5 C594.1 540.1 594.5 542.3 594.9 540.9 C595.3 539.5 595.7 535.8 596.1 529.9 C596.5 524.1 596.9 512.9 597.3 505.6 C597.7 498.3 598.1 490.3 598.5 486.1 C598.9 482.0 599.3 480.2 599.8 480.8 C600.2 481.4 600.6 483.2 601.0 489.8 C601.4 496.3 601.8 509.0 602.2 520.2 C602.6 531.4 603.0 546.2 603.4 556.7 C603.8 567.2 604.3 577.9 604.6 583.0 C605.0 588.1 605.2 588.2 605.6 587.4 C606.0 586.6 606.4 583.2 606.8 578.1 C607.2 573.0 607.6 564.3 608.0 556.7 C608.4 549.1 608.8 540.9 609.2 532.4 C609.7 523.9 610.1 513.3 610.5 505.6 C610.9 497.9 611.3 490.4 611.7 486.1 C612.1 481.9 612.5 480.2 612.9 480.0 C613.3 479.8 613.5 482.7 613.9 484.9 C614.2 487.1 614.5 491.6 614.8 493.4 C615.2 495.2 615.5 496.7 615.8 495.9 C616.1 495.0 616.4 492.4 616.8 488.6 C617.2 484.7 617.6 476.8 618.0 472.7 C618.4 468.7 618.9 465.8 619.2 464.2 C619.6 462.6 619.8 462.0 620.2 463.2 C620.6 464.5 621.0 466.9 621.4 471.5 C621.8 476.1 622.2 486.1 622.6 491.0 C623.0 495.9 623.4 499.3 623.9 500.7 C624.3 502.1 624.7 501.9 625.1 499.5 C625.5 497.1 625.9 489.4 626.3 486.1 C626.7 482.9 627.1 479.8 627.5 480.0 C627.9 480.2 628.3 483.7 628.7 487.3 C629.1 491.0 629.5 498.7 629.9 501.9 C630.3 505.2 630.7 505.6 631.2 506.8 C631.6 508.0 632.0 507.6 632.4 509.2 C632.8 510.9 633.2 511.9 633.6 516.5 C634.0 521.2 634.2 528.1 634.6 537.2 C634.9 546.4 635.2 561.6 635.5 571.3 C635.9 581.1 636.2 589.5 636.5 595.7 C636.8 601.8 637.2 607.1 637.5 608.3 C637.8 609.5 638.1 607.9 638.5 603.0 C638.8 598.0 639.1 588.4 639.4 578.6 C639.8 568.9 640.1 554.7 640.4 544.5 C640.7 534.4 641.1 523.9 641.4 517.8 C641.7 511.7 642.0 508.6 642.4 508.0 C642.7 507.4 643.0 509.7 643.3 514.1 C643.6 518.6 644.0 529.1 644.3 534.8 C644.6 540.5 644.9 547.0 645.3 548.2 C645.6 549.4 645.9 546.8 646.2 542.1 C646.6 537.4 646.9 527.1 647.2 520.2 C647.5 513.3 648.0 504.0 648.2 500.7" fill="none" stroke="#155d81" stroke-width="2.50" stroke-linejoin="round" stroke-linecap="round"/>
<line x1="80.5" y1="523.0" x2="667.0" y2="523.0" stroke="#000" stroke-opacity="0.5" stroke-width="1.55"/>
<polygon points="327.1,439.1 388.8,439.1 388.8,457.1 427.6,480.0 388.8,464.7 388.8,468.9 327.1,468.9" fill="#fff" stroke="#000" stroke-width="1.45" stroke-linejoin="miter"/><text transform="translate(357.60 459.80) skewY(0.03)" text-anchor="middle" font-size="16">7097</text>
<polygon points="316.1,484.1 377.9,484.1 377.9,488.6 413.5,493.0 377.9,496.1 377.9,513.7 316.1,513.7" fill="#fff" stroke="#000" stroke-width="1.45" stroke-linejoin="miter"/><text transform="translate(347.30 504.40) skewY(0.03)" text-anchor="middle" font-size="16">7189</text>
<polygon points="246.6,572.0 283.4,572.0 312.9,554.5 298.9,572.0 309.0,572.0 309.0,602.0 246.6,602.0" fill="#fff" stroke="#000" stroke-width="1.45" stroke-linejoin="miter"/><text transform="translate(277.90 592.00) skewY(0.03)" text-anchor="middle" font-size="16">8686</text>
<polygon points="408.5,419.8 470.1,419.8 470.1,436.9 501.6,440.2 470.1,444.3 470.1,449.4 408.5,449.4" fill="#fff" stroke="#000" stroke-width="1.45" stroke-linejoin="miter"/><text transform="translate(439.50 440.30) skewY(0.03)" text-anchor="middle" font-size="16">6017</text>
<polygon points="488.8,384.6 550.7,384.6 550.7,415.0 540.4,415.0 551.6,446.8 525.0,415.0 488.8,415.0" fill="#fff" stroke="#000" stroke-width="1.45" stroke-linejoin="miter"/><text transform="translate(519.70 405.70) skewY(0.03)" text-anchor="middle" font-size="16">5338</text>
<polygon points="576.4,389.6 638.2,389.6 638.2,419.4 628.1,419.4 619.8,454.0 612.3,419.4 576.4,419.4" fill="#fff" stroke="#000" stroke-width="1.45" stroke-linejoin="miter"/><text transform="translate(607.20 410.10) skewY(0.03)" text-anchor="middle" font-size="16">4389</text>
<polygon points="446.4,542.6 509.4,542.6 509.4,559.5 548.8,581.5 509.4,568.4 509.4,572.4 446.4,572.4" fill="#fff" stroke="#000" stroke-width="1.45" stroke-linejoin="miter"/><text transform="translate(478.10 563.50) skewY(0.03)" text-anchor="middle" font-size="16">5276</text>
<polygon points="515.7,603.4 578.3,603.4 578.3,607.3 601.5,594.6 578.3,615.2 578.3,632.8 515.7,632.8" fill="#fff" stroke="#000" stroke-width="1.45" stroke-linejoin="miter"/><text transform="translate(547.10 624.00) skewY(0.03)" text-anchor="middle" font-size="16">4605</text>
<polygon points="435.4,602.3 498.4,602.3 498.4,606.2 583.0,582.3 498.4,615.1 498.4,632.0 435.4,632.0" fill="#fff" stroke="#000" stroke-width="1.45" stroke-linejoin="miter"/><text transform="translate(466.70 623.30) skewY(0.03)" text-anchor="middle" font-size="16">4867</text>
<polygon points="615.2,615.8 626.2,615.8 637.5,610.3 640.8,615.8 678.6,615.8 678.6,645.7 615.2,645.7" fill="#fff" stroke="#000" stroke-width="1.45" stroke-linejoin="miter"/><text transform="translate(646.80 637.10) skewY(0.03)" text-anchor="middle" font-size="16">4142</text>
<text transform="translate(337.50 736.50) skewY(0.03)" text-anchor="middle" font-size="14.67">(b)</text>
</svg></body></html>
